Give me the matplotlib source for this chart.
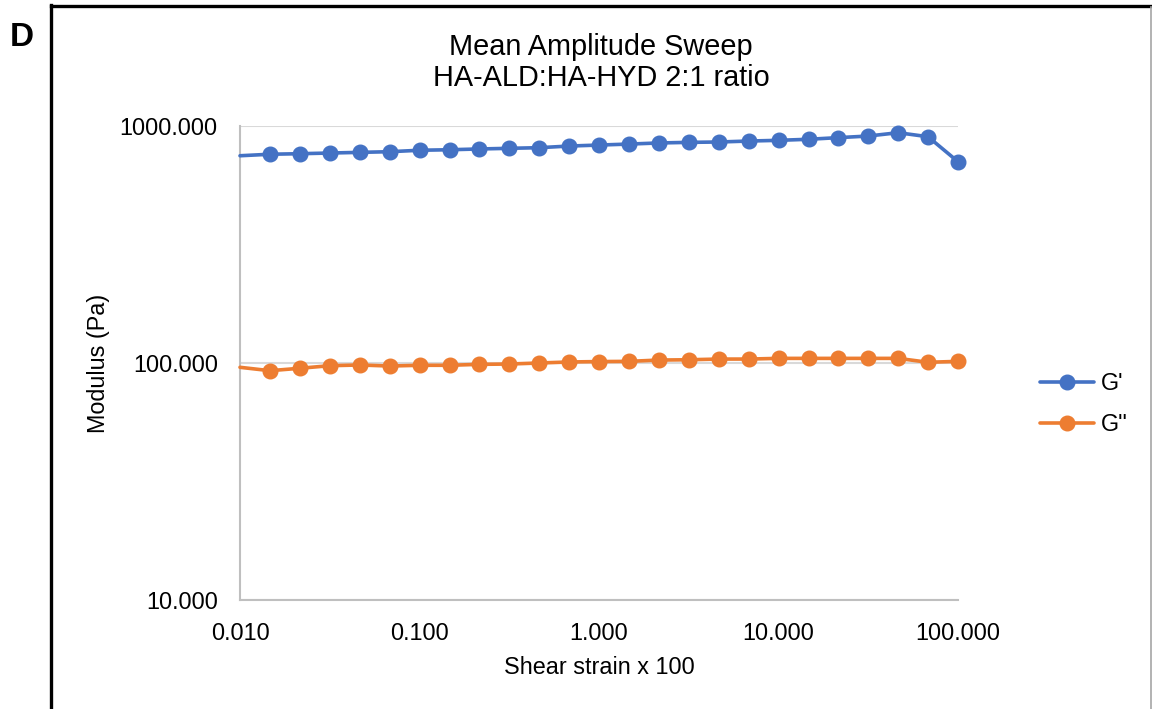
import matplotlib
matplotlib.use("Agg")
import matplotlib.pyplot as plt
from matplotlib.lines import Line2D
from matplotlib.ticker import FixedLocator, FuncFormatter, NullLocator

plt.rcParams['font.family'] = ['Liberation Sans', 'DejaVu Sans']

# Data (shear strain x 100)
strain = [0.0100, 0.0147, 0.0215, 0.0316, 0.0464, 0.0681, 0.100, 0.147, 0.215,
          0.316, 0.464, 0.681, 1.00, 1.47, 2.15, 3.16, 4.64, 6.81, 10.0, 14.7,
          21.5, 31.6, 46.4, 68.1, 100.0]
g_prime = [749, 760, 764, 769, 774, 779, 790, 794, 800, 805, 810, 823, 831, 839,
           848, 853, 856, 864, 870, 879, 893, 907, 937, 901, 707]
g_double = [95.9, 92.8, 95.0, 97.4, 98.1, 97.1, 97.8, 97.8, 98.7, 99.0, 100.0,
            101.0, 101.4, 101.6, 102.9, 103.2, 103.9, 103.9, 104.6, 104.6, 104.6,
            104.6, 104.6, 100.7, 101.6]
xticks = [0.01, 0.1, 1, 10, 100]
yticks = [10, 100, 1000]

W, H = 1152, 709
fig = plt.figure(figsize=(W / 100, H / 100), dpi=100)
ax = fig.add_axes([240 / W, (H - 600) / H, 718 / W, 474 / H])

blue = '#4472C4'
orange = '#ED7D31'
marks = list(range(1, len(strain)))
ax.plot(strain, g_prime, color=blue, lw=2.6, marker='o', ms=10.5,
        markevery=marks, label="G'", solid_capstyle='round', clip_on=False, zorder=3)
ax.plot(strain, g_double, color=orange, lw=2.6, marker='o', ms=10.5,
        markevery=marks, label="G''", solid_capstyle='round', clip_on=False, zorder=3)

ax.set_xscale('log')
ax.set_yscale('log')
ax.set_xlim(0.01, 100)
ax.set_ylim(10, 1000)
ax.xaxis.set_major_locator(FixedLocator(xticks))
ax.yaxis.set_major_locator(FixedLocator(yticks))
ax.xaxis.set_minor_locator(NullLocator())
ax.yaxis.set_minor_locator(NullLocator())
fmt = FuncFormatter(lambda v, p: f"{v:.3f}")
ax.xaxis.set_major_formatter(fmt)
ax.yaxis.set_major_formatter(fmt)
ax.tick_params(axis='both', length=0, labelsize=16.8, colors='#000000')
ax.tick_params(axis='x', pad=16)
ax.tick_params(axis='y', pad=16)

ax.grid(True, axis='y', color='#D9D9D9', lw=1.5)
ax.set_axisbelow(True)
for s in ['top', 'right']:
    ax.spines[s].set_visible(False)
for s in ['left', 'bottom']:
    ax.spines[s].set_color('#BFBFBF')
    ax.spines[s].set_linewidth(1.5)

ax.set_xlabel('Shear strain x 100', fontsize=16.8, labelpad=8)
ax.set_ylabel('Modulus (Pa)', fontsize=16.8, labelpad=7)

fig.text(601 / W, 1 - 47 / H, 'Mean Amplitude Sweep', ha='center', va='center', fontsize=20.8)
fig.text(601 / W, 1 - 78 / H, 'HA-ALD:HA-HYD 2:1 ratio', ha='center', va='center', fontsize=20.8)

leg = fig.legend(loc='center left', bbox_to_anchor=(1040 / W, 1 - 404 / H), frameon=False,
                 fontsize=16.8, handlelength=2.3, handletextpad=0.3, labelspacing=0.78,
                 borderaxespad=0, borderpad=0)

# Panel label and frame
fig.text(10 / W, 1 - 37 / H, 'D', ha='left', va='center', fontsize=24, fontweight='bold')
fig.add_artist(Line2D([50.5 / W, 1], [1 - 5.5 / H, 1 - 5.5 / H], color='black', lw=2.4,
                      transform=fig.transFigure))
fig.add_artist(Line2D([50.5 / W, 50.5 / W], [0, 1 - 4.5 / H], color='black', lw=2.4,
                      transform=fig.transFigure))
fig.add_artist(Line2D([1151 / W, 1151 / W], [0, 1 - 7 / H], color='#A6A6A6', lw=1.2,
                      transform=fig.transFigure))

fig.savefig('out.png', dpi=100)
